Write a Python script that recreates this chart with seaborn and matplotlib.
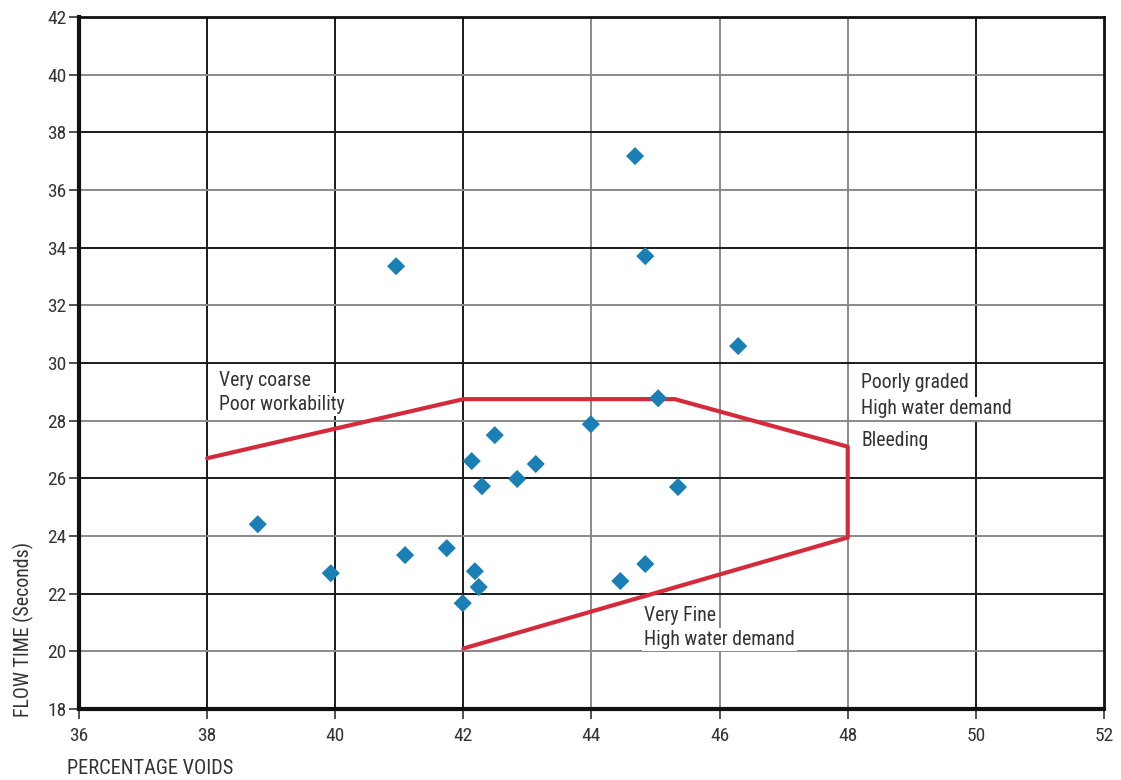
import matplotlib
matplotlib.use("Agg")
import matplotlib.pyplot as plt
import seaborn as sns
import pandas as pd

# Measured mixes: void content (%) and flow time (s)
voids = [38.79, 39.93, 40.95, 41.09, 41.74, 41.99, 42.13, 42.18, 42.24, 42.29,
         42.49, 42.84, 43.13, 43.99, 44.45, 44.68, 44.84, 44.84, 45.04, 45.35, 46.29]
flow = [24.41, 22.71, 33.36, 23.34, 23.58, 21.67, 26.60, 22.78, 22.23, 25.73,
        27.50, 25.98, 26.50, 27.88, 22.44, 37.18, 23.03, 33.71, 28.78, 25.70, 30.59]

# Acceptable zone boundary
zone_x = [38.0, 42.0, 45.3, 48.0, 48.0, 42.0]
zone_y = [26.7, 28.75, 28.75, 27.1, 23.95, 20.1]

x_ticks = [36, 38, 40, 42, 44, 46, 48, 50, 52]
y_ticks = [18, 20, 22, 24, 26, 28, 30, 32, 34, 36, 38, 40, 42]

sns.set_style("white")
plt.rcParams["font.family"] = ["Liberation Sans Narrow", "Roboto Condensed",
                               "Liberation Sans", "DejaVu Sans"]

fig = plt.figure(figsize=(11.21, 7.80), dpi=100)
ax = fig.add_axes([0.0705, 0.091, 0.9143, 0.887])

# grid: alternating dark and light lines
dark_v = {38, 40, 42, 50}
dark_h = {22, 26, 30, 34, 38}
for xv in x_ticks[1:-1]:
    ax.axvline(xv, color="#1a1a1a" if xv in dark_v else "#8a8a8a",
               lw=1.4, zorder=1)
for yv in y_ticks[1:-1]:
    ax.axhline(yv, color="#1a1a1a" if yv in dark_h else "#8a8a8a",
               lw=1.4, zorder=1)

df_zone = pd.DataFrame({"x": zone_x, "y": zone_y})
sns.lineplot(data=df_zone, x="x", y="y", sort=False, estimator=None,
             color="#d42a3c", lw=3, ax=ax, zorder=3)

df = pd.DataFrame({"voids": voids, "flow": flow})
sns.scatterplot(data=df, x="voids", y="flow", marker="D", s=85,
                color="#1a7fb4", edgecolor="none", ax=ax, zorder=4)

ax.set_xlim(36, 52)
ax.set_ylim(18, 42)
ax.set_xticks(x_ticks)
ax.set_yticks(y_ticks)
ax.tick_params(axis="both", direction="out", length=7, width=1.2,
               color="#333333", labelsize=14, labelcolor="#333333",
               bottom=True, left=True)
ax.tick_params(axis="x", pad=6)
ax.tick_params(axis="y", pad=2)

for side in ["left", "bottom"]:
    ax.spines[side].set_linewidth(3)
    ax.spines[side].set_color("#111111")
for side in ["top", "right"]:
    ax.spines[side].set_linewidth(2)
    ax.spines[side].set_color("#111111")
    ax.spines[side].set_visible(True)

ax.set_xlabel("PERCENTAGE VOIDS", fontsize=14.7, color="#333333")
ax.set_ylabel("FLOW TIME (Seconds)", fontsize=14.3, color="#333333")
ax.xaxis.set_label_coords(-0.012, -0.072)
ax.xaxis.label.set_horizontalalignment("left")
ax.yaxis.set_label_coords(-0.054, -0.012)
ax.yaxis.label.set_verticalalignment("center")
ax.yaxis.label.set_horizontalalignment("left")

box = dict(facecolor="white", edgecolor="none", pad=1.5)
labels = [
    (38.19, 29.20, "Very coarse"),
    (38.19, 28.37, "Poor workability"),
    (48.21, 29.13, "Poorly graded"),
    (48.21, 28.23, "High water demand"),
    (48.21, 27.12, "Bleeding"),
    (44.82, 21.05, "Very Fine"),
    (44.82, 20.22, "High water demand"),
]
for lx, ly, txt in labels:
    ax.text(lx, ly, txt, fontsize=14.2, color="#333333", ha="left",
            va="baseline", bbox=box, zorder=5)

fig.savefig("out.png", dpi=100)
